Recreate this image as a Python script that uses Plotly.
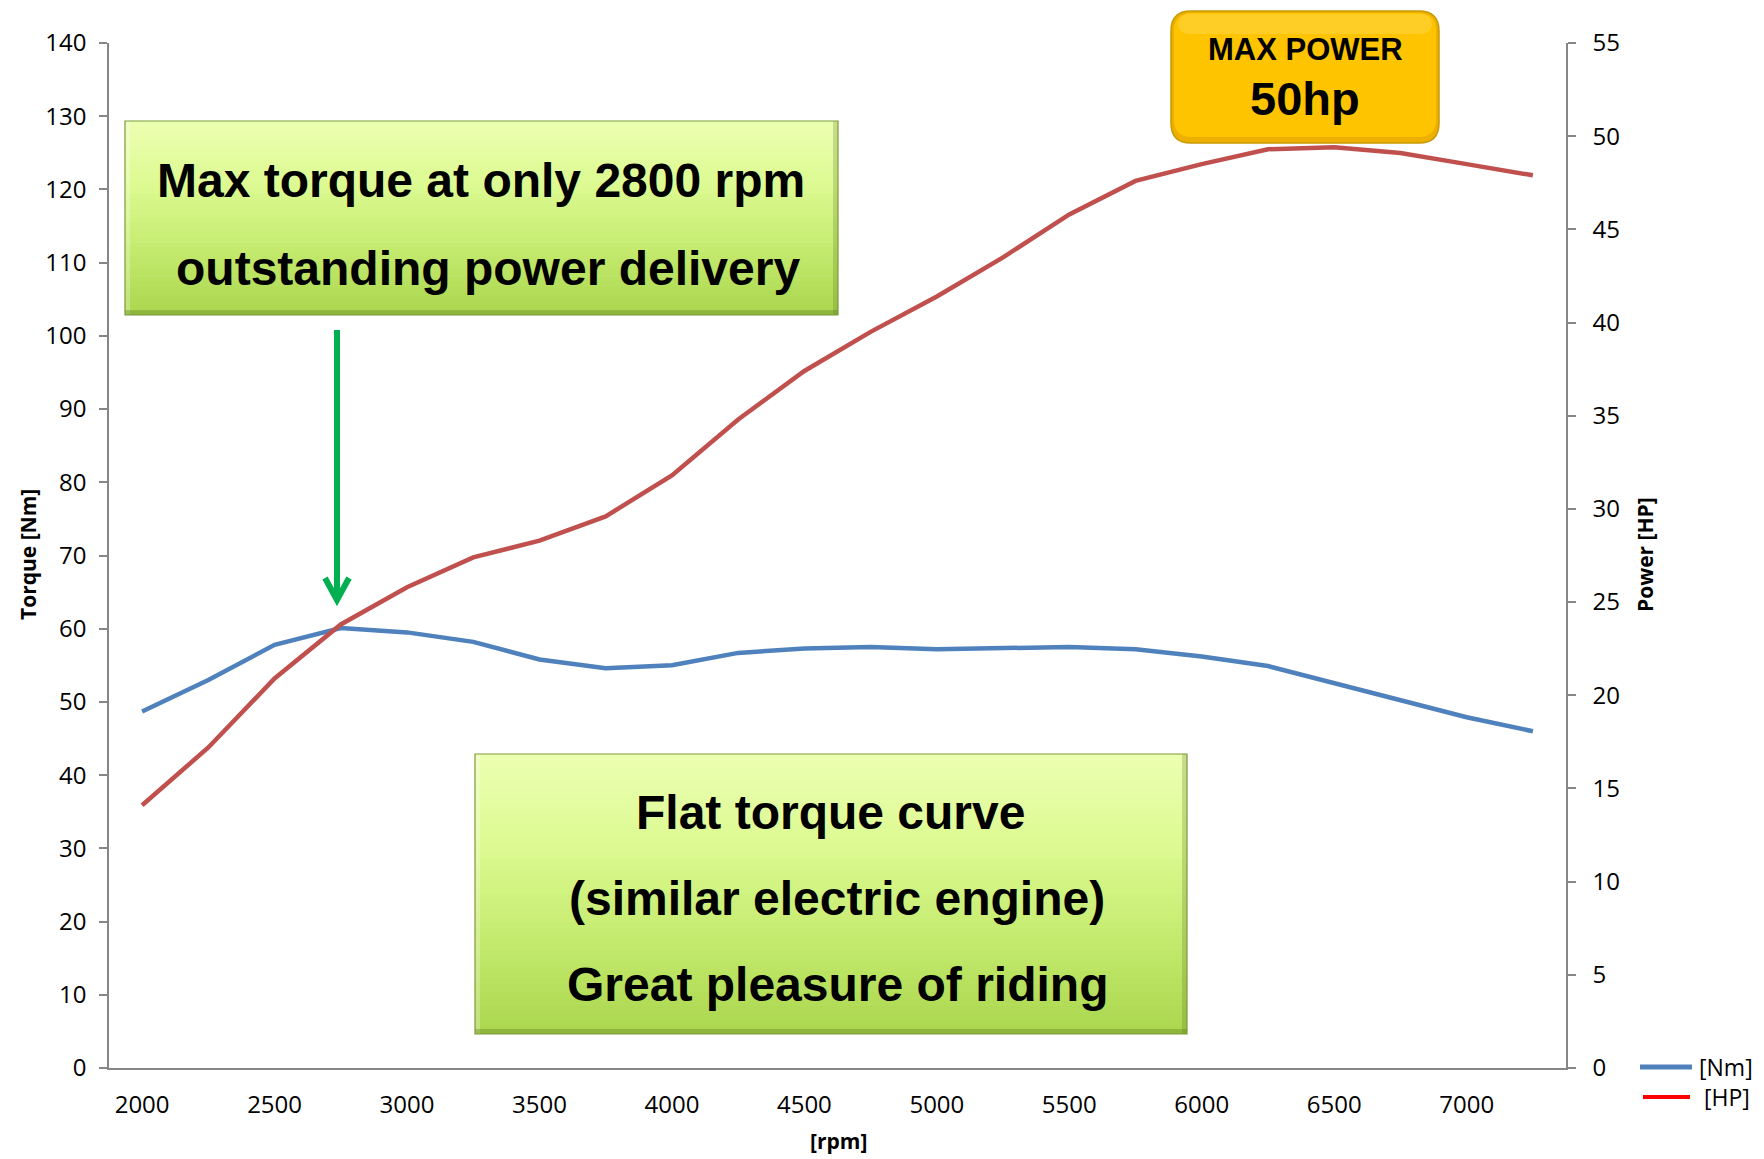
import plotly.graph_objects as go

# ---------------- data ----------------
rpm = [2000, 2250, 2500, 2750, 3000, 3250, 3500, 3750, 4000, 4250, 4500,
       4750, 5000, 5250, 5500, 5750, 6000, 6250, 6500, 6750, 7000, 7250]
torque_nm = [48.7, 53.0, 57.8, 60.1, 59.5, 58.2, 55.8, 54.6, 55.0, 56.7, 57.3,
             57.5, 57.2, 57.3, 57.5, 57.2, 56.2, 54.9, 52.6, 50.3, 47.9, 46.0]
power_hp = [14.1, 17.2, 20.9, 23.8, 25.8, 27.4, 28.3, 29.6, 31.8, 34.8, 37.4,
            39.5, 41.4, 43.5, 45.8, 47.6, 48.5, 49.3, 49.4, 49.1, 48.5, 47.9]
x_ticks = [2000, 2500, 3000, 3500, 4000, 4500, 5000, 5500, 6000, 6500, 7000]
left_ticks = list(range(0, 141, 10))
right_ticks = list(range(0, 56, 5))

box1_lines = ["Max torque at only 2800 rpm", "outstanding power delivery"]
box2_lines = ["Flat torque curve", "(similar electric engine)", "Great pleasure of riding"]
max_lines = ["MAX POWER", "50hp"]

# ---------------- geometry helpers (screen pixel -> paper) ----------------
OFF = 8                      # default page body margin
W, H = 1764 - OFF, 1159 - OFF
L, R, T, B = 109, 1566, 43, 1068   # plot area in screen pixels


def px(x):
    return (x - L) / (R - L)


def py(y):
    return (B - y) / (B - T)


BLUE = "#4F81BD"
RED = "#C0504D"
TICKFONT = dict(family="Open Sans, Noto Sans, sans-serif", size=24, color="#000000")

fig = go.Figure()
fig.add_trace(go.Scatter(x=rpm, y=torque_nm, mode="lines", name="[Nm]",
                         line=dict(color=BLUE, width=4.5), yaxis="y", showlegend=False))
fig.add_trace(go.Scatter(x=rpm, y=power_hp, mode="lines", name="[HP]",
                         line=dict(color=RED, width=4.5), yaxis="y2", showlegend=False))

shapes = []
annotations = []


def lerp(c1, c2, t):
    return tuple(round(a + (b - a) * t) for a, b in zip(c1, c2))


def gradient_box(x0, y0, x1, y1, stops, n=40, border="rgb(125,155,55)"):
    for i in range(n):
        t = (i + 0.5) / n
        seg = min(int(t * (len(stops) - 1)), len(stops) - 2)
        tt = t * (len(stops) - 1) - seg
        c = lerp(stops[seg], stops[seg + 1], tt)
        ya = y0 + (y1 - y0) * i / n
        yb = y0 + (y1 - y0) * (i + 1) / n + 0.6
        shapes.append(dict(type="rect", xref="paper", yref="paper",
                           x0=px(x0), x1=px(x1), y0=py(ya), y1=py(min(yb, y1)),
                           fillcolor="rgb(%d,%d,%d)" % c, line=dict(width=0), layer="above"))
    shapes.append(dict(type="rect", xref="paper", yref="paper",
                       x0=px(x0), x1=px(x0 + 5), y0=py(y1), y1=py(y0),
                       fillcolor="rgba(255,255,255,0.25)", line=dict(width=0), layer="above"))
    shapes.append(dict(type="rect", xref="paper", yref="paper",
                       x0=px(x1 - 5), x1=px(x1), y0=py(y1), y1=py(y0),
                       fillcolor="rgba(90,120,30,0.25)", line=dict(width=0), layer="above"))
    shapes.append(dict(type="rect", xref="paper", yref="paper",
                       x0=px(x0), x1=px(x1), y0=py(y1), y1=py(y1 - 5),
                       fillcolor="rgba(90,120,30,0.35)", line=dict(width=0), layer="above"))
    shapes.append(dict(type="rect", xref="paper", yref="paper",
                       x0=px(x0), x1=px(x1), y0=py(y0), y1=py(y1),
                       fillcolor="rgba(0,0,0,0)", line=dict(color=border, width=1.2), layer="above"))


green_stops = [(236, 255, 178), (220, 250, 145), (196, 234, 110), (170, 214, 78)]
gradient_box(125, 121, 838, 315, green_stops)
gradient_box(475, 754, 1187, 1034, green_stops)


def rounded_path(x0, y0, x1, y1, r):
    pts = [
        ("M", px(x0 + r), py(y0)),
        ("L", px(x1 - r), py(y0)),
        ("Q", px(x1), py(y0), px(x1), py(y0 + r)),
        ("L", px(x1), py(y1 - r)),
        ("Q", px(x1), py(y1), px(x1 - r), py(y1)),
        ("L", px(x0 + r), py(y1)),
        ("Q", px(x0), py(y1), px(x0), py(y1 - r)),
        ("L", px(x0), py(y0 + r)),
        ("Q", px(x0), py(y0), px(x0 + r), py(y0)),
    ]
    s = ""
    for p in pts:
        cmd = p[0]
        nums = p[1:]
        s += cmd + " " + " ".join("%.6f,%.6f" % (nums[i], nums[i + 1]) for i in range(0, len(nums), 2)) + " "
    return s + "Z"


# max power gold box
shapes.append(dict(type="path", xref="paper", yref="paper",
                   path=rounded_path(1171, 11, 1439, 143, 20),
                   fillcolor="#EDB000", line=dict(color="#C99A00", width=1.5), layer="above"))
shapes.append(dict(type="path", xref="paper", yref="paper",
                   path=rounded_path(1174, 13, 1436, 137, 18),
                   fillcolor="#FFC400", line=dict(width=0), layer="above"))
shapes.append(dict(type="path", xref="paper", yref="paper",
                   path=rounded_path(1178, 14, 1432, 34, 12),
                   fillcolor="rgba(255,225,110,0.35)", line=dict(width=0), layer="above"))

# green arrow (line + open chevron head)
ARROW = "#00B050"
shapes.append(dict(type="line", xref="paper", yref="paper",
                   x0=px(337), x1=px(337), y0=py(330), y1=py(598),
                   line=dict(color=ARROW, width=6)))
shapes.append(dict(type="path", xref="paper", yref="paper",
                   path="M %.6f,%.6f L %.6f,%.6f L %.6f,%.6f" % (px(325), py(578), px(337), py(600), px(349), py(578)),
                   line=dict(color=ARROW, width=6), fillcolor="rgba(0,0,0,0)"))

# legend (custom)
shapes.append(dict(type="line", xref="paper", yref="paper",
                   x0=px(1640), x1=px(1692), y0=py(1067), y1=py(1067),
                   line=dict(color=BLUE, width=5)))
shapes.append(dict(type="line", xref="paper", yref="paper",
                   x0=px(1643), x1=px(1690), y0=py(1097), y1=py(1097),
                   line=dict(color="#FF0000", width=4)))
LEGFONT = dict(family="Open Sans, Noto Sans, sans-serif", size=23, color="#000000")
annotations.append(dict(xref="paper", yref="paper", x=px(1697), y=py(1067), text="[Nm]",
                        showarrow=False, xanchor="left", yanchor="middle", font=LEGFONT))
annotations.append(dict(xref="paper", yref="paper", x=px(1702), y=py(1097), text="[HP]",
                        showarrow=False, xanchor="left", yanchor="middle", font=LEGFONT))

# box texts
BOXFONT = dict(family="Liberation Sans, Arial, sans-serif", size=48, color="#000000")
for txt, cx, cy in zip(box1_lines, [481, 488], [180, 268]):
    annotations.append(dict(xref="paper", yref="paper", x=px(cx), y=py(cy), text="<b>%s</b>" % txt,
                            showarrow=False, xanchor="center", yanchor="middle", font=BOXFONT))
for txt, cx, cy in zip(box2_lines, [830, 837, 837], [812, 898, 984]):
    annotations.append(dict(xref="paper", yref="paper", x=px(cx), y=py(cy), text="<b>%s</b>" % txt,
                            showarrow=False, xanchor="center", yanchor="middle", font=BOXFONT))
annotations.append(dict(xref="paper", yref="paper", x=px(1305), y=py(49), text="<b>%s</b>" % max_lines[0],
                        showarrow=False, xanchor="center", yanchor="middle",
                        font=dict(family="Liberation Sans, Arial, sans-serif", size=31, color="#000000")))
annotations.append(dict(xref="paper", yref="paper", x=px(1305), y=py(98), text="<b>%s</b>" % max_lines[1],
                        showarrow=False, xanchor="center", yanchor="middle",
                        font=dict(family="Liberation Sans, Arial, sans-serif", size=47, color="#000000")))

# axis titles
TITLEFONT = dict(family="Open Sans, Noto Sans, sans-serif", size=21, color="#000000")
annotations.append(dict(xref="paper", yref="paper", x=px(28), y=py(555), text="<b>Torque [Nm]</b>",
                        textangle=-90, showarrow=False, xanchor="center", yanchor="middle", font=TITLEFONT))
annotations.append(dict(xref="paper", yref="paper", x=px(1645), y=py(555), text="<b>Power [HP]</b>",
                        textangle=-90, showarrow=False, xanchor="center", yanchor="middle", font=TITLEFONT))
annotations.append(dict(xref="paper", yref="paper", x=px(838), y=py(1141), text="<b>[rpm]</b>",
                        showarrow=False, xanchor="center", yanchor="middle", font=TITLEFONT))

AXCOL = "#868686"
fig.update_layout(
    width=W, height=H,
    margin=dict(l=L - OFF, r=(1764 - R), t=T - OFF, b=(1159 - B), pad=0),
    paper_bgcolor="white", plot_bgcolor="white",
    showlegend=False,
    xaxis=dict(range=[1875, 7375], tickvals=x_ticks, showgrid=False, zeroline=False,
               showline=True, linecolor=AXCOL, linewidth=1.5, ticks="",
               tickfont=TICKFONT, ticklabelstandoff=14, mirror=False),
    yaxis=dict(range=[0, 140], tickvals=left_ticks, showgrid=False, zeroline=False,
               showline=True, linecolor=AXCOL, linewidth=1.5, ticks="outside",
               ticklen=8, tickcolor=AXCOL, tickwidth=1.5, tickfont=TICKFONT,
               ticklabelstandoff=8),
    yaxis2=dict(range=[0, 55], tickvals=right_ticks, overlaying="y", side="right",
                showgrid=False, zeroline=False, showline=True, linecolor=AXCOL,
                linewidth=1.5, ticks="outside", ticklen=8, tickcolor=AXCOL, tickwidth=1.5,
                tickfont=TICKFONT, ticklabelstandoff=12),
    shapes=shapes,
    annotations=annotations,
)

fig.write_html("out.html")
